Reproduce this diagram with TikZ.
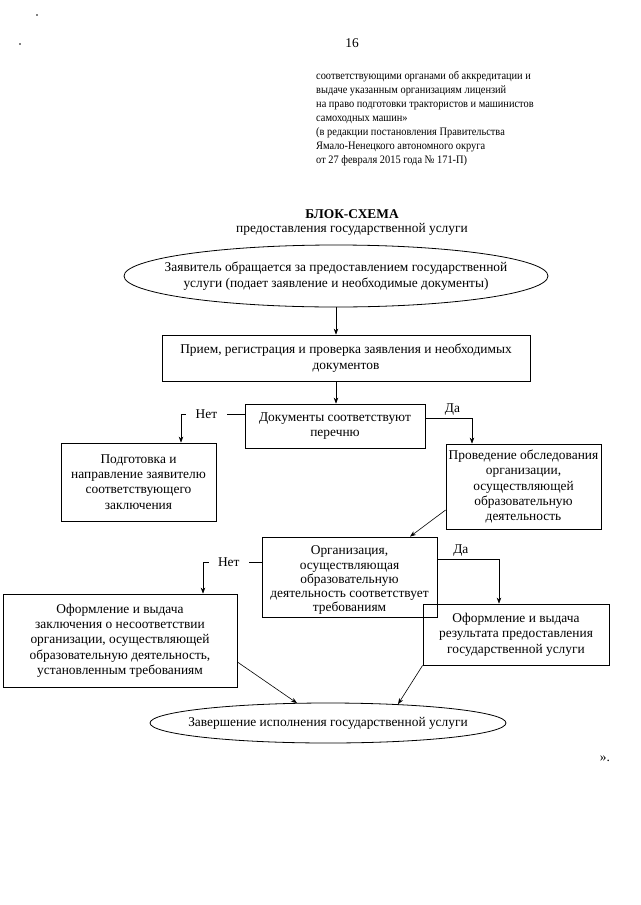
\documentclass[tikz,border=0pt]{standalone}
\usepackage{fontspec}
\setmainfont{Liberation Serif}
\newfontfamily\hdrfamily[FakeStretch=0.91]{Liberation Serif}
\usetikzlibrary{shapes.geometric,arrows.meta,calc}
\newcommand\flowfont{\fontsize{13.4}{15.3}\selectfont}
\newcommand\hdrfont{\hdrfamily\fontsize{11.4}{14}\selectfont}
\begin{document}
\begin{tikzpicture}[x=1pt,y=-1pt,
  box/.style={draw, line width=0.8pt, align=center, font=\flowfont, inner sep=2pt},
  oval/.style={draw, ellipse, line width=0.8pt, inner sep=0pt},
  arr/.style={line width=0.6pt, -{Stealth[length=6pt,width=4.5pt]}},
  lbl/.style={font=\flowfont, inner sep=1pt}]
\fill[white] (0,0) rectangle (640,905);
\useasboundingbox (0,0) rectangle (640,905);
\fill (37,15) circle (0.8pt);
\fill (20,44) circle (0.8pt);
\node[font=\flowfont] (pg) at (352,43) {16};
\node[anchor=north west, align=left, inner sep=0pt, font=\hdrfont] (hdr) at (316,71.5) {соответствующими органами об аккредитации и\\
выдаче указанным организациям лицензий\\
на право подготовки трактористов и машинистов\\
самоходных машин»\\
(в редакции постановления Правительства\\
Ямало-Ненецкого автономного округа\\
от 27 февраля 2015 года № 171-П)};
\node[font=\bfseries\flowfont] (t1) at (352,214) {БЛОК-СХЕМА};
\node[font=\flowfont] (t2) at (352,229) {предоставления государственной услуги};
\node[oval, minimum width=424pt, minimum height=62pt,
  label={[align=center, font=\flowfont]center:Заявитель обращается за предоставлением государственной\\услуги (подает заявление и необходимые документы)}] (e1) at (336,276) {};
\node[box, minimum width=368pt, minimum height=46pt] (b2) at (346,358) {Прием, регистрация и проверка заявления и необходимых\\документов};
\node[box, minimum width=180pt, minimum height=44pt] (d1) at (335,426) {Документы соответствуют\\перечню};
\node[box, minimum width=155pt, minimum height=78pt] (n1) at (138.5,482) {Подготовка и\\направление заявителю\\соответствующего\\заключения};
\node[box, minimum width=155pt, minimum height=85pt] (r1) at (523.5,486.5) {Проведение обследования\\организации,\\осуществляющей\\образовательную\\деятельность};
\node[box, font=\fontsize{13.4}{14.3}\selectfont, minimum width=175pt, minimum height=80pt] (d2) at (349.5,577) {\rule{0pt}{15.5pt}Организация,\\осуществляющая\\образовательную\\деятельность соответствует\\требованиям};
\node[box, minimum width=234pt, minimum height=93pt] (nl) at (120,640.5) {Оформление и выдача\\заключения о несоответствии\\организации, осуществляющей\\образовательную деятельность,\\установленным требованиям};
\node[box, minimum width=186pt, minimum height=61pt] (rr) at (516,634.5) {Оформление и выдача\\результата предоставления\\государственной услуги};
\node[oval, minimum width=356pt, minimum height=40pt,
  label={[font=\flowfont]center:Завершение исполнения государственной услуги}] (end) at (328,723) {};
\node[font=\flowfont] (q) at (605,759) {».};
\draw[arr] (e1.south) -- (e1.south |- b2.north);
\draw[arr] (e1.south |- b2.south) -- (e1.south |- d1.north);
\draw[arr] (d1.west |- 0,414) -| ([xshift=42.5pt]n1.north) node[lbl, pos=0.3, fill=white, inner xsep=10pt]{Нет};
\draw[arr] (d1.east |- 0,418) -| ([xshift=-51.5pt]r1.north) node[lbl, pos=0.29, above=1pt]{Да};
\draw[arr] (r1.west |- 0,510) -- ([xshift=60.5pt]d2.north);
\draw[arr] (d2.west |- 0,562) -| ([xshift=83pt]nl.north) node[lbl, pos=0.28, fill=white, inner xsep=9pt]{Нет};
\draw[arr] (d2.east |- 0,559) -| ([xshift=-17pt]rr.north) node[lbl, pos=0.19, above=1pt]{Да};
\draw[arr] (nl.east |- 0,662) -- ([xshift=-31pt,yshift=-0.5pt]end.north);
\draw[arr] (rr.south west) -- ([xshift=70pt,yshift=-1.6pt]end.north);
\end{tikzpicture}
\end{document}
